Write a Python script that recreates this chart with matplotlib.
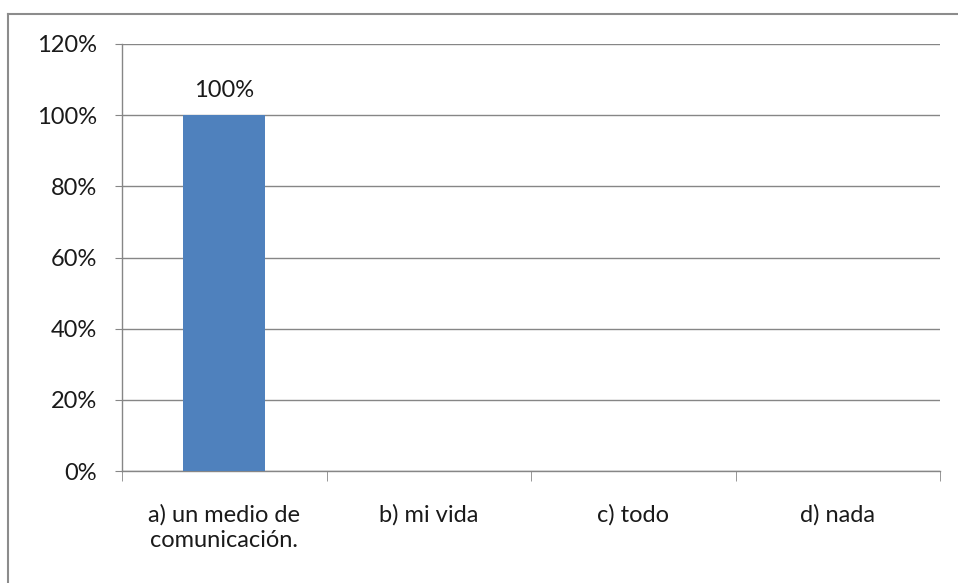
import matplotlib
matplotlib.use("Agg")
import matplotlib.pyplot as plt
from matplotlib.lines import Line2D

categories = ["a) un medio de\ncomunicación.", "b) mi vida", "c) todo", "d) nada"]
values = [100, 0, 0, 0]
yticks = [0, 20, 40, 60, 80, 100, 120]
ytick_labels = ["0%", "20%", "40%", "60%", "80%", "100%", "120%"]

W, H = 958, 583
fig = plt.figure(figsize=(W / 100, H / 100), dpi=100)
plt.rcParams['font.family'] = ['Lato', 'DejaVu Sans']
fs = 17
grid_c = "#868686"

ax = fig.add_axes([122 / W, 1 - 471 / H, (940 - 122) / W, (471 - 44) / H])
x = list(range(len(categories)))
ax.bar(x, values, width=0.4, color="#4f81bd", zorder=3)
ax.set_xlim(-0.5, len(categories) - 0.5)
ax.set_ylim(0, 120)
ax.set_yticks(yticks)
ax.set_yticklabels(ytick_labels, fontsize=fs, color="#1a1a1a")
ax.yaxis.grid(True, color=grid_c, linewidth=1, zorder=0)
ax.set_xticks(x)
ax.set_xticklabels(categories, fontsize=fs, color="#1a1a1a", linespacing=1.25)
ax.tick_params(axis='x', length=0, pad=24)
ax.tick_params(axis='y', length=5, color=grid_c, pad=13)
ax.set_xticks([i - 0.5 for i in range(len(categories) + 1)], minor=True)
ax.tick_params(axis='x', which='minor', length=7, color=grid_c, direction='out')
for s in ["top", "right"]:
    ax.spines[s].set_visible(False)
for s in ["left", "bottom"]:
    ax.spines[s].set_color(grid_c)
    ax.spines[s].set_linewidth(1)

for xi, v in zip(x, values):
    if v > 0:
        ax.annotate(f"{v}%", (xi, v), xytext=(0, 10), textcoords="offset points",
                    ha="center", va="bottom", fontsize=fs, color="#1a1a1a")

# outer border
fig.add_artist(Line2D([8 / W, 8 / W], [0, 1 - 14 / H], transform=fig.transFigure, color="#8c8c8c", lw=1.5))
fig.add_artist(Line2D([8 / W, 1], [1 - 14 / H, 1 - 14 / H], transform=fig.transFigure, color="#8c8c8c", lw=1.5))

fig.savefig("out.png", dpi=100)
